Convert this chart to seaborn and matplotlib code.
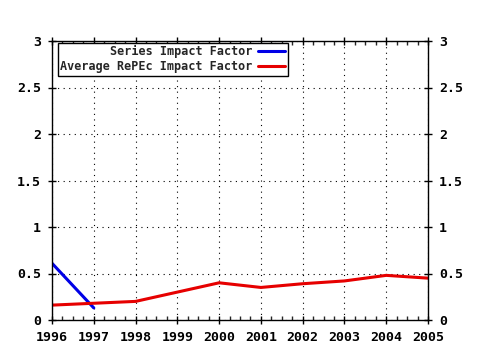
import pandas as pd
import matplotlib
matplotlib.use("Agg")
import matplotlib.pyplot as plt
from matplotlib.ticker import MultipleLocator
import seaborn as sns

# values
years = [1996, 1997, 1998, 1999, 2000, 2001, 2002, 2003, 2004, 2005]
series_years = [1996, 1997]
series_if = [0.61, 0.13]
average_if = [0.16, 0.18, 0.20, 0.30, 0.40, 0.35, 0.39, 0.42, 0.48, 0.45]
y_ticks = [0, 0.5, 1, 1.5, 2, 2.5, 3]
y_labels = ["0", "0.5", "1", "1.5", "2", "2.5", "3"]

sns.set_style("ticks")
plt.rcParams["font.family"] = ["DejaVu Sans Mono"]
plt.rcParams["font.weight"] = "bold"

series_df = pd.DataFrame({"year": series_years, "value": series_if})
avg_df = pd.DataFrame({"year": years, "value": average_if})

fig = plt.figure(figsize=(4.8, 3.5), dpi=100)
ax = fig.add_axes([52 / 480, 30 / 350, 376 / 480, 279 / 350])

sns.lineplot(data=series_df, x="year", y="value", ax=ax, color="#0000e6",
             lw=2.2, label="Series Impact Factor")
sns.lineplot(data=avg_df, x="year", y="value", ax=ax, color="#e60000",
             lw=2.2, label="Average RePEc Impact Factor")

ax.set_xlim(1996, 2005)
ax.set_ylim(0, 3)
ax.set_xticks(years)
ax.set_xticklabels([str(y) for y in years])
ax.set_yticks(y_ticks)
ax.set_yticklabels(y_labels)
ax.xaxis.set_minor_locator(MultipleLocator(0.25))
ax.set_xlabel("")
ax.set_ylabel("")

ax.grid(True, which="major", color="black", linestyle=(0, (1, 4)), lw=0.8)
for s in ax.spines.values():
    s.set_visible(True)
    s.set_color("black")
    s.set_linewidth(1)

ax.tick_params(axis="both", which="major", direction="inout", length=6, width=1,
               labelsize=9.5, colors="black", top=True, right=True,
               labelright=True, pad=5)
ax.tick_params(axis="x", which="minor", direction="in", length=3, width=1,
               top=True, bottom=True)

leg = ax.legend(loc="upper left", bbox_to_anchor=(0.015, 0.993), markerfirst=False,
                fancybox=False, edgecolor="black", framealpha=1, fontsize=8.5,
                handlelength=2.3, borderpad=0.2, labelspacing=0.15,
                handletextpad=0.5, borderaxespad=0)
leg.get_frame().set_linewidth(1)

fig.savefig("out.png", dpi=100, facecolor="white")
